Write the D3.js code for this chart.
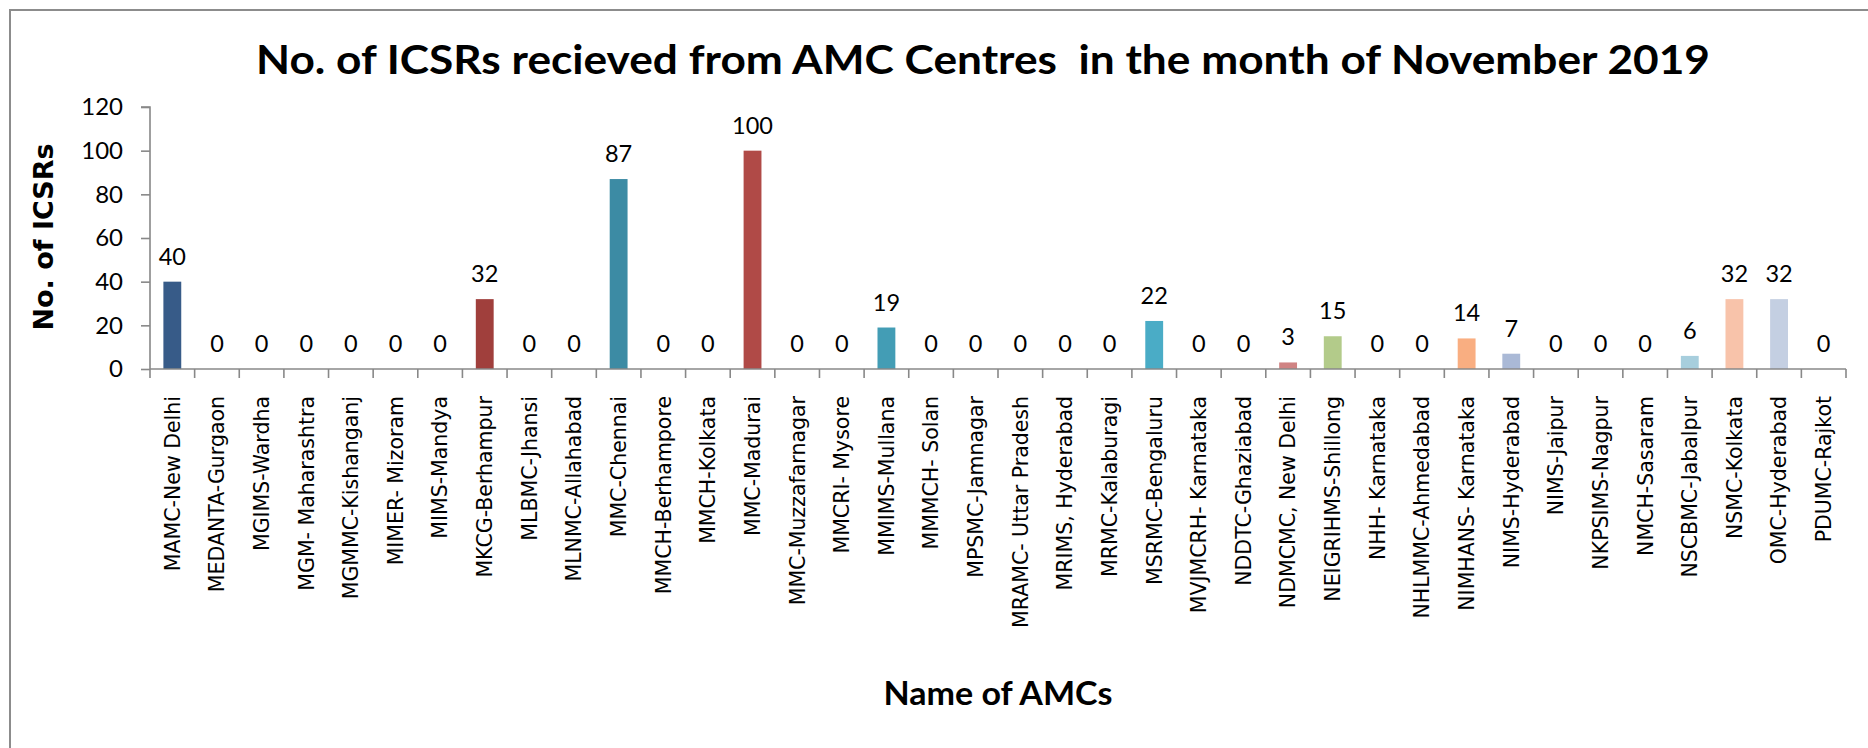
<!DOCTYPE html>
<html>
<head>
<meta charset="utf-8">
<script src="https://cdn.jsdelivr.net/npm/d3@7"></script>
<style>
  body { margin: 0; background: #fff; }
  svg { display: block; }
</style>
</head>
<body>
<div id="chart"></div>
<script>
// AMC centre names (x categories)
var categories = [
    "MAMC-New Delhi", "MEDANTA-Gurgaon", "MGIMS-Wardha", "MGM- Maharashtra",
    "MGMMC-Kishanganj", "MIMER- Mizoram", "MIMS-Mandya", "MKCG-Berhampur",
    "MLBMC-Jhansi", "MLNMC-Allahabad", "MMC-Chennai", "MMCH-Berhampore",
    "MMCH-Kolkata", "MMC-Madurai", "MMC-Muzzafarnagar", "MMCRI- Mysore",
    "MMIMS-Mullana", "MMMCH- Solan", "MPSMC-Jamnagar", "MRAMC- Uttar Pradesh",
    "MRIMS, Hyderabad", "MRMC-Kalaburagi", "MSRMC-Bengaluru", "MVJMCRH- Karnataka",
    "NDDTC-Ghaziabad", "NDMCMC, New Delhi", "NEIGRIHMS-Shillong", "NHH- Karnataka",
    "NHLMMC-Ahmedabad", "NIMHANS- Karnataka", "NIMS-Hyderabad", "NIMS-Jaipur",
    "NKPSIMS-Nagpur", "NMCH-Sasaram", "NSCBMC-Jabalpur", "NSMC-Kolkata",
    "OMC-Hyderabad", "PDUMC-Rajkot"
];

// No. of ICSRs per centre
var values = [
    40, 0, 0, 0, 0, 0, 0, 32, 0, 0, 87, 0, 0, 100, 0, 0, 19, 0, 0,
    0, 0, 0, 22, 0, 0, 3, 15, 0, 0, 14, 7, 0, 0, 0, 6, 32, 32, 0
];

// vary-colours-by-point palette
var barColors = [
    "#375b88", "#9c3d3a", "#7a9a45", "#644f83", "#378aa1", "#d6802f", "#4a6fa5", "#a03f3c",
    "#86a34a", "#6d5a8e", "#3c8ba4", "#c76f2b", "#5b7fb5", "#b04a47", "#95b25a", "#7f6b9f",
    "#439db5", "#e08a3b", "#7b97c9", "#c05d5a", "#a5c26c", "#9180b0", "#4aacc6", "#f19b52",
    "#95aad6", "#d08383", "#b3cb8a", "#a89ac4", "#7fc1d3", "#f9ae81", "#aab9d6", "#dca2a0",
    "#c7d9a8", "#bdb3d4", "#a7cedd", "#f8c3aa", "#c4cfe2", "#e6bdbc"
];

var yTicks = [0, 20, 40, 60, 80, 100, 120];

var width = 1868, height = 748;
var plot = {left: 150, right: 1846, top: 107, bottom: 369};

var svg = d3.select("#chart").append("svg")
    .attr("width", width)
    .attr("height", height);

svg.append("rect").attr("width", width).attr("height", height).attr("fill", "#fff");

// chart area border (runs off the right/bottom like the screenshot)
svg.append("rect")
    .attr("x", 10).attr("y", 10)
    .attr("width", 1900).attr("height", 800)
    .attr("fill", "none")
    .attr("stroke", "#8c8c8c")
    .attr("stroke-width", 2);

var x = d3.scaleBand()
    .domain(categories)
    .range([plot.left, plot.right])
    .paddingInner(0.6)
    .paddingOuter(0.3);

var y = d3.scaleLinear()
    .domain([0, 120])
    .range([plot.bottom, plot.top]);

// title
svg.append("text")
    .attr("x", 983).attr("y", 74)
    .attr("text-anchor", "middle")
    .attr("textLength", 1454)
    .attr("lengthAdjust", "spacingAndGlyphs")
    .style("font-family", "Lato, 'Open Sans', sans-serif")
    .style("font-weight", "bold")
    .style("font-size", "41px")
    .style("white-space", "pre")
    .text("No. of ICSRs recieved from AMC Centres  in the month of November 2019");

// y axis
var yAxis = svg.append("g")
    .attr("transform", "translate(" + plot.left + ",0)")
    .call(d3.axisLeft(y).tickValues(yTicks).tickSize(9).tickPadding(18));
yAxis.selectAll("line, path").attr("stroke", "#888").attr("stroke-width", 1.6);
yAxis.select(".domain").attr("d", "M-9," + plot.top + "H0V" + plot.bottom);
yAxis.selectAll("text")
    .style("font-family", "Lato, 'Open Sans', sans-serif")
    .style("font-size", "24px")
    .attr("fill", "#000");

// bars
svg.selectAll(".bar")
    .data(values)
    .enter().append("rect")
    .attr("class", "bar")
    .attr("x", function (d, i) { return x(categories[i]); })
    .attr("width", x.bandwidth())
    .attr("y", function (d) { return y(d); })
    .attr("height", function (d) { return y(0) - y(d); })
    .attr("fill", function (d, i) { return barColors[i]; });

// x axis line + ticks between categories
var gap = (x.step() - x.bandwidth()) / 2;
var bounds = categories.map(function (c) { return x(c) - gap; });
bounds.push(x(categories[categories.length - 1]) + x.bandwidth() + gap);

var xAxis = svg.append("g");
xAxis.append("line")
    .attr("x1", plot.left).attr("x2", bounds[bounds.length - 1])
    .attr("y1", y(0)).attr("y2", y(0))
    .attr("stroke", "#888").attr("stroke-width", 1.6);
xAxis.selectAll(".xtick")
    .data(bounds)
    .enter().append("line")
    .attr("class", "xtick")
    .attr("x1", function (d) { return d; }).attr("x2", function (d) { return d; })
    .attr("y1", y(0)).attr("y2", y(0) + 9)
    .attr("stroke", "#888").attr("stroke-width", 1.6);

// category labels, rotated
xAxis.selectAll(".xlabel")
    .data(categories)
    .enter().append("text")
    .attr("class", "xlabel")
    .attr("transform", function (d) {
        return "translate(" + (x(d) + x.bandwidth() / 2) + "," + (y(0) + 27) + ") rotate(-90)";
    })
    .attr("dy", "0.36em")
    .attr("text-anchor", "end")
    .style("font-family", "'DejaVu Sans', Verdana, sans-serif")
    .style("font-size", "20.5px")
    .style("white-space", "pre")
    .text(function (d) { return d; });

// data labels
svg.selectAll(".dlabel")
    .data(values)
    .enter().append("text")
    .attr("class", "dlabel")
    .attr("x", function (d, i) { return x(categories[i]) + x.bandwidth() / 2; })
    .attr("y", function (d) { return y(d) - 17; })
    .attr("text-anchor", "middle")
    .style("font-family", "Lato, 'Open Sans', sans-serif")
    .style("font-size", "23.5px")
    .text(function (d) { return d; });

// axis titles
svg.append("text")
    .attr("transform", "translate(43,237) rotate(-90)")
    .attr("text-anchor", "middle")
    .attr("dy", "0.36em")
    .style("font-family", "'DejaVu Sans', Verdana, sans-serif")
    .style("font-weight", "bold")
    .style("font-size", "27px")
    .text("No. of ICSRs");

svg.append("text")
    .attr("x", 998).attr("y", 705)
    .attr("text-anchor", "middle")
    .attr("textLength", 229)
    .attr("lengthAdjust", "spacingAndGlyphs")
    .style("font-family", "Lato, 'Open Sans', sans-serif")
    .style("font-weight", "bold")
    .style("font-size", "33px")
    .text("Name of AMCs");
</script>
</body>
</html>
